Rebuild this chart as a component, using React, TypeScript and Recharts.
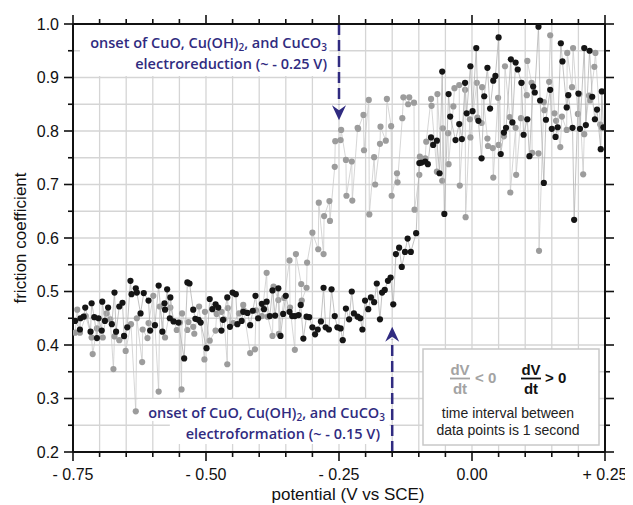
import React from "react";
import {
  ScatterChart,
  Scatter,
  XAxis,
  YAxis,
  CartesianGrid,
  ReferenceLine,
  ReferenceArea,
  ReferenceDot,
} from "recharts";

// potential (V vs SCE) / friction coefficient
// dV/dt < 0 (reverse scan, gray)
const reverseScan: [number, number][] = [
  [-0.746, 0.423], [-0.742, 0.466], [-0.737, 0.423], [-0.726, 0.454], [-0.715, 0.414],
  [-0.713, 0.383], [-0.705, 0.431], [-0.694, 0.414], [-0.687, 0.459], [-0.68, 0.448],
  [-0.674, 0.355], [-0.672, 0.416], [-0.663, 0.409], [-0.654, 0.416], [-0.651, 0.389],
  [-0.641, 0.439], [-0.632, 0.276], [-0.63, 0.45], [-0.62, 0.368], [-0.619, 0.429],
  [-0.61, 0.413], [-0.608, 0.441], [-0.599, 0.492], [-0.589, 0.313], [-0.587, 0.472],
  [-0.577, 0.414], [-0.567, 0.47], [-0.555, 0.428], [-0.549, 0.442], [-0.546, 0.317],
  [-0.545, 0.459], [-0.535, 0.428], [-0.533, 0.443], [-0.524, 0.434], [-0.522, 0.421],
  [-0.513, 0.472], [-0.503, 0.373], [-0.502, 0.462], [-0.493, 0.408], [-0.482, 0.427],
  [-0.48, 0.458], [-0.471, 0.462], [-0.466, 0.448], [-0.46, 0.364], [-0.459, 0.469],
  [-0.449, 0.441], [-0.438, 0.459], [-0.43, 0.475], [-0.429, 0.465], [-0.417, 0.385],
  [-0.408, 0.392], [-0.406, 0.465], [-0.395, 0.454], [-0.386, 0.535], [-0.384, 0.453],
  [-0.375, 0.417], [-0.373, 0.509], [-0.364, 0.484], [-0.363, 0.421], [-0.353, 0.488],
  [-0.343, 0.558], [-0.342, 0.47], [-0.333, 0.391], [-0.331, 0.57], [-0.321, 0.514],
  [-0.32, 0.483], [-0.311, 0.507], [-0.31, 0.554], [-0.3, 0.61], [-0.289, 0.579],
  [-0.288, 0.666], [-0.279, 0.57], [-0.278, 0.641], [-0.268, 0.669], [-0.267, 0.632],
  [-0.258, 0.733], [-0.257, 0.781], [-0.247, 0.783], [-0.246, 0.802], [-0.237, 0.746],
  [-0.236, 0.679], [-0.226, 0.743], [-0.225, 0.67], [-0.215, 0.806], [-0.214, 0.804],
  [-0.204, 0.83], [-0.203, 0.764], [-0.194, 0.858], [-0.193, 0.644], [-0.184, 0.751],
  [-0.182, 0.7], [-0.173, 0.776], [-0.172, 0.808], [-0.162, 0.782], [-0.16, 0.86],
  [-0.152, 0.809], [-0.151, 0.679], [-0.141, 0.721], [-0.14, 0.704], [-0.131, 0.824],
  [-0.129, 0.863], [-0.12, 0.85], [-0.118, 0.863], [-0.109, 0.853], [-0.108, 0.653],
  [-0.099, 0.718], [-0.098, 0.752], [-0.088, 0.749], [-0.086, 0.78], [-0.077, 0.86],
  [-0.076, 0.847], [-0.066, 0.724], [-0.065, 0.869], [-0.056, 0.707], [-0.055, 0.805],
  [-0.045, 0.796], [-0.044, 0.738], [-0.035, 0.846], [-0.033, 0.88], [-0.024, 0.886],
  [-0.023, 0.698], [-0.013, 0.877], [-0.012, 0.639], [-0.004, 0.822], [-0.003, 0.788],
  [0.009, 0.89], [0.01, 0.825], [0.018, 0.815], [0.019, 0.882], [0.029, 0.786],
  [0.03, 0.772], [0.039, 0.768], [0.04, 0.713], [0.049, 0.862], [0.05, 0.774],
  [0.06, 0.79], [0.062, 0.921], [0.071, 0.826], [0.072, 0.685], [0.082, 0.806],
  [0.083, 0.718], [0.092, 0.824], [0.093, 0.89], [0.103, 0.867], [0.104, 0.931],
  [0.112, 0.89], [0.113, 0.759], [0.125, 0.758], [0.126, 0.576], [0.135, 0.854],
  [0.136, 0.839], [0.145, 0.892], [0.147, 0.979], [0.155, 0.833], [0.158, 0.819],
  [0.166, 0.77], [0.169, 0.827], [0.178, 0.802], [0.179, 0.946], [0.188, 0.882],
  [0.19, 0.955], [0.199, 0.832], [0.202, 0.869], [0.209, 0.719], [0.211, 0.794],
  [0.22, 0.866], [0.222, 0.857], [0.23, 0.92], [0.232, 0.946], [0.241, 0.812],
  [0.244, 0.806],
];

// dV/dt > 0 (forward scan, black)
const forwardScan: [number, number][] = [
  [-0.746, 0.445], [-0.737, 0.429], [-0.736, 0.45], [-0.73, 0.453], [-0.727, 0.47],
  [-0.717, 0.425], [-0.715, 0.478], [-0.71, 0.452], [-0.705, 0.413], [-0.702, 0.45],
  [-0.696, 0.427], [-0.695, 0.481], [-0.69, 0.445], [-0.684, 0.47], [-0.677, 0.439],
  [-0.672, 0.498], [-0.669, 0.425], [-0.663, 0.472], [-0.657, 0.479], [-0.654, 0.417],
  [-0.648, 0.433], [-0.642, 0.52], [-0.64, 0.495], [-0.632, 0.506], [-0.63, 0.498],
  [-0.623, 0.459], [-0.617, 0.497], [-0.608, 0.483], [-0.605, 0.427], [-0.596, 0.437],
  [-0.589, 0.511], [-0.582, 0.425], [-0.578, 0.478], [-0.577, 0.466], [-0.573, 0.504],
  [-0.568, 0.45], [-0.567, 0.489], [-0.561, 0.444], [-0.552, 0.442], [-0.541, 0.375],
  [-0.535, 0.517], [-0.531, 0.515], [-0.524, 0.466], [-0.52, 0.449], [-0.514, 0.447],
  [-0.51, 0.442], [-0.499, 0.394], [-0.493, 0.486], [-0.488, 0.467], [-0.482, 0.476],
  [-0.477, 0.47], [-0.471, 0.427], [-0.468, 0.447], [-0.46, 0.489], [-0.455, 0.434],
  [-0.45, 0.498], [-0.444, 0.495], [-0.441, 0.439], [-0.433, 0.445], [-0.43, 0.462],
  [-0.422, 0.46], [-0.417, 0.437], [-0.412, 0.464], [-0.407, 0.492], [-0.402, 0.45],
  [-0.395, 0.477], [-0.391, 0.467], [-0.386, 0.481], [-0.38, 0.454], [-0.375, 0.502],
  [-0.37, 0.455], [-0.364, 0.506], [-0.36, 0.417], [-0.355, 0.458], [-0.35, 0.492],
  [-0.343, 0.462], [-0.338, 0.454], [-0.333, 0.454], [-0.326, 0.456], [-0.322, 0.475],
  [-0.317, 0.412], [-0.311, 0.453], [-0.306, 0.452], [-0.3, 0.433], [-0.295, 0.42],
  [-0.29, 0.429], [-0.284, 0.444], [-0.279, 0.507], [-0.275, 0.433], [-0.269, 0.429],
  [-0.264, 0.504], [-0.258, 0.454], [-0.253, 0.433], [-0.247, 0.431], [-0.243, 0.409],
  [-0.237, 0.468], [-0.231, 0.448], [-0.226, 0.5], [-0.222, 0.459], [-0.215, 0.453],
  [-0.21, 0.45], [-0.206, 0.429], [-0.201, 0.483], [-0.195, 0.467], [-0.19, 0.489],
  [-0.184, 0.48], [-0.179, 0.515], [-0.173, 0.448], [-0.169, 0.498], [-0.164, 0.503],
  [-0.158, 0.52], [-0.153, 0.526], [-0.148, 0.476], [-0.143, 0.57], [-0.137, 0.582],
  [-0.132, 0.546], [-0.126, 0.574], [-0.121, 0.599], [-0.115, 0.574], [-0.105, 0.609],
  [-0.099, 0.74], [-0.095, 0.741], [-0.088, 0.743], [-0.083, 0.738], [-0.077, 0.788],
  [-0.073, 0.774], [-0.066, 0.782], [-0.061, 0.721], [-0.056, 0.911], [-0.052, 0.645],
  [-0.044, 0.869], [-0.041, 0.827], [-0.031, 0.783], [-0.024, 0.813], [-0.019, 0.785],
  [-0.013, 0.89], [-0.01, 0.833], [-0.003, 0.921], [0.001, 0.837], [0.008, 0.955],
  [0.012, 0.819], [0.018, 0.749], [0.023, 0.865], [0.029, 0.918], [0.034, 0.842],
  [0.04, 0.894], [0.044, 0.903], [0.05, 0.975], [0.054, 0.757], [0.06, 0.797],
  [0.064, 0.806], [0.073, 0.934], [0.076, 0.816], [0.082, 0.928], [0.086, 0.915],
  [0.093, 0.89], [0.097, 0.793], [0.104, 0.822], [0.108, 0.753], [0.115, 0.883],
  [0.118, 0.872], [0.125, 0.995], [0.128, 0.857], [0.135, 0.703], [0.139, 0.821],
  [0.147, 0.877], [0.15, 0.804], [0.157, 0.789], [0.161, 0.807], [0.167, 0.964],
  [0.17, 0.93], [0.178, 0.844], [0.181, 0.867], [0.189, 0.806], [0.192, 0.634],
  [0.2, 0.87], [0.203, 0.804], [0.211, 0.955], [0.214, 0.811], [0.221, 0.95],
  [0.226, 0.864], [0.231, 0.822], [0.235, 0.84], [0.242, 0.766], [0.244, 0.874],
  [0.247, 0.807],
];

const xTicks = [
  -0.75, -0.7, -0.65, -0.6, -0.55, -0.5, -0.45, -0.4, -0.35, -0.3, -0.25,
  -0.2, -0.15, -0.1, -0.05, 0, 0.05, 0.1, 0.15, 0.2, 0.25,
];
const xMajorTicks = [-0.75, -0.5, -0.25, 0, 0.25];
const xMajorLabels = ["- 0.75", "- 0.50", "- 0.25", "0.00", "+ 0.25"];

const yTicks = [
  0.2, 0.25, 0.3, 0.35, 0.4, 0.45, 0.5, 0.55, 0.6, 0.65, 0.7, 0.75, 0.8, 0.85, 0.9, 0.95, 1.0,
];
const yMajorTicks = [0.2, 0.3, 0.4, 0.5, 0.6, 0.7, 0.8, 0.9, 1.0];
const yMajorLabels = ["0.2", "0.3", "0.4", "0.5", "0.6", "0.7", "0.8", "0.9", "1.0"];

const reduction = -0.25; // onset of electroreduction
const formation = -0.15; // onset of electroformation

const W = 625;
const H = 497;
const INK = "#302b80";
const FONT = "'Liberation Sans', Arial, Helvetica, sans-serif";
const NOTE_FONT = "'Open Sans', 'Noto Sans', sans-serif";

function findMajor(list: number[], v: number) {
  return list.findIndex((m) => Math.abs(m - v) < 1e-6);
}

function AxisTick(props: any) {
  const { x, y, payload, side } = props;
  const v = payload.value as number;
  const horizontal = side === "top" || side === "bottom";
  const idx = findMajor(horizontal ? xMajorTicks : yMajorTicks, v);
  const len = idx >= 0 ? 9 : 5;
  const line = { stroke: "#111", strokeWidth: 1.6 };
  if (side === "bottom") {
    return (
      <g>
        <line x1={x} y1={y} x2={x} y2={y + len} {...line} />
        {idx >= 0 && (
          <text x={x} y={y + 28} textAnchor="middle" fontSize={16} fontFamily={FONT} fill="#111">
            {xMajorLabels[idx]}
          </text>
        )}
      </g>
    );
  }
  if (side === "top") {
    return <line x1={x} y1={y} x2={x} y2={y - len} {...line} />;
  }
  if (side === "left") {
    return (
      <g>
        <line x1={x - len} y1={y} x2={x} y2={y} {...line} />
        {idx >= 0 && (
          <text x={x - 14} y={y + 5.5} textAnchor="end" fontSize={16} fontFamily={FONT} fill="#111">
            {yMajorLabels[idx]}
          </text>
        )}
      </g>
    );
  }
  return <line x1={x} y1={y} x2={x + len} y2={y} {...line} />;
}

function ArrowHead(props: any) {
  const { cx, cy, dir } = props;
  const s = dir === "down" ? -1 : 1;
  const d = `M${cx},${cy} L${cx - 7},${cy + s * 15} L${cx},${cy + s * 10} L${cx + 7},${cy + s * 15} Z`;
  return <path d={d} fill={INK} />;
}

export default function App() {
  const grayData = reverseScan.map(([v, mu]) => ({ v, mu }));
  const blackData = forwardScan.map(([v, mu]) => ({ v, mu }));
  const axisLine = { stroke: "#111", strokeWidth: 2 };
  const sub = { fontSize: 10 };

  return (
    <div style={{ position: "relative", width: W, height: H }}>
      <style>{`.recharts-surface { overflow: visible; }`}</style>
      <ScatterChart width={W} height={H} margin={{ top: 0, right: 0, bottom: 0, left: 0 }}>
        <CartesianGrid xAxisId="b" yAxisId="l" stroke="#d5d5d5" strokeWidth={1.3} />
        <XAxis
          xAxisId="t" orientation="top" type="number" dataKey="v" domain={[-0.75, 0.25]}
          ticks={xTicks} interval={0} height={16} tickSize={0} tickMargin={0} tickLine={false}
          axisLine={axisLine} allowDataOverflow tick={(p: any) => <AxisTick {...p} side="top" />}
        />
        <XAxis
          xAxisId="b" orientation="bottom" type="number" dataKey="v" domain={[-0.75, 0.25]}
          ticks={xTicks} interval={0} height={53} tickSize={0} tickMargin={0} tickLine={false}
          axisLine={axisLine} allowDataOverflow tick={(p: any) => <AxisTick {...p} side="bottom" />}
        />
        <YAxis
          yAxisId="l" orientation="left" type="number" dataKey="mu" domain={[0.2, 1.0]}
          ticks={yTicks} interval={0} width={65} tickSize={0} tickMargin={0} tickLine={false}
          axisLine={axisLine} allowDataOverflow tick={(p: any) => <AxisTick {...p} side="left" />}
        />
        <YAxis
          yAxisId="r" orientation="right" type="number" dataKey="mu" domain={[0.2, 1.0]}
          ticks={yTicks} interval={0} width={28} tickSize={0} tickMargin={0} tickLine={false}
          axisLine={axisLine} allowDataOverflow tick={(p: any) => <AxisTick {...p} side="right" />}
        />

        {/* white backing behind the annotation text */}
        <ReferenceArea xAxisId="b" yAxisId="l" x1={-0.737} x2={-0.268} y1={0.903} y2={1.0} fill="#fff" fillOpacity={1} stroke="none" />
        <ReferenceArea xAxisId="b" yAxisId="l" x1={-0.628} x2={-0.155} y1={0.258} y2={0.299} fill="#fff" fillOpacity={1} stroke="none" />
        <ReferenceArea xAxisId="b" yAxisId="l" x1={-0.568} x2={-0.155} y1={0.215} y2={0.258} fill="#fff" fillOpacity={1} stroke="none" />

        <Scatter
          xAxisId="b" yAxisId="l" name="dV/dt < 0" data={grayData} isAnimationActive={false}
          line={{ stroke: "#cbcbcb", strokeWidth: 0.8 }} lineType="joint"
          shape={(p: any) => <circle cx={p.cx} cy={p.cy} r={3.1} fill="#9c9c9c" />}
        />
        <Scatter
          xAxisId="b" yAxisId="l" name="dV/dt > 0" data={blackData} isAnimationActive={false}
          line={{ stroke: "#b4b4b4", strokeWidth: 0.8 }} lineType="joint"
          shape={(p: any) => <circle cx={p.cx} cy={p.cy} r={3.1} fill="#151515" />}
        />

        <ReferenceLine
          xAxisId="b" yAxisId="l" segment={[{ x: reduction, y: 1.0 }, { x: reduction, y: 0.85 }]}
          stroke={INK} strokeWidth={2.5} strokeDasharray="11 5"
        />
        <ReferenceDot
          xAxisId="b" yAxisId="l" x={reduction} y={0.82} r={1}
          shape={(p: any) => <ArrowHead {...p} dir="down" />}
        />
        <ReferenceLine
          xAxisId="b" yAxisId="l" segment={[{ x: formation, y: 0.2 }, { x: formation, y: 0.41 }]}
          stroke={INK} strokeWidth={2.5} strokeDasharray="11 5"
        />
        <ReferenceDot
          xAxisId="b" yAxisId="l" x={formation} y={0.434} r={1}
          shape={(p: any) => <ArrowHead {...p} dir="up" />}
        />
      </ScatterChart>

      <svg width={W} height={H} style={{ position: "absolute", left: 0, top: 0, pointerEvents: "none", overflow: "visible" }}>
        {/* axis titles */}
        <text x={340} y={492} textAnchor="middle" fontSize={17} fontFamily={FONT} fill="#111">
          potential (V vs SCE)
        </text>
        <text x={18} y={230} transform="rotate(-90 18 230)" textAnchor="middle" fontSize={17} fontFamily={FONT} fill="#111">
          friction coefficient
        </text>

        {/* annotations */}
        <g fontFamily={NOTE_FONT} fontWeight={600} fontSize={14.5} fill={INK}>
          <text x={319} y={40} textAnchor="end">
            onset of CuO, Cu(OH)<tspan dy={3} {...sub}>2</tspan>
            <tspan dy={-3}>, and CuCO</tspan><tspan dy={3} {...sub}>3</tspan>
          </text>
          <text x={319} y={61} textAnchor="end">electroreduction (~ - 0.25 V)</text>
          <text x={377} y={410} textAnchor="end">
            onset of CuO, Cu(OH)<tspan dy={3} {...sub}>2</tspan>
            <tspan dy={-3}>, and CuCO</tspan><tspan dy={3} {...sub}>3</tspan>
          </text>
          <text x={372} y={431} textAnchor="end">electroformation (~ - 0.15 V)</text>
        </g>

        {/* legend box */}
        <rect x={415} y={341} width={176} height={96} fill="#fff" stroke="#c8c8c8" strokeWidth={1.5} />
        <g fontFamily={FONT} fontWeight={700} fontSize={15}>
          <g fill="#a3a3a3">
            <text x={452} y={367} textAnchor="middle">dV</text>
            <line x1={442} y1={370.5} x2={462} y2={370.5} stroke="#a3a3a3" strokeWidth={1.8} />
            <text x={452} y={386} textAnchor="middle">dt</text>
            <text x={467} y={375} textAnchor="start">&lt; 0</text>
          </g>
          <g fill="#111">
            <text x={523} y={367} textAnchor="middle">dV</text>
            <line x1={513} y1={370.5} x2={533} y2={370.5} stroke="#111" strokeWidth={1.8} />
            <text x={523} y={386} textAnchor="middle">dt</text>
            <text x={537} y={375} textAnchor="start">&gt; 0</text>
          </g>
        </g>
        <g fontFamily={FONT} fontSize={14} fill="#222" textAnchor="middle">
          <text x={500} y={410}>time interval between</text>
          <text x={500} y={427}>data points is 1 second</text>
        </g>
      </svg>
    </div>
  );
}
